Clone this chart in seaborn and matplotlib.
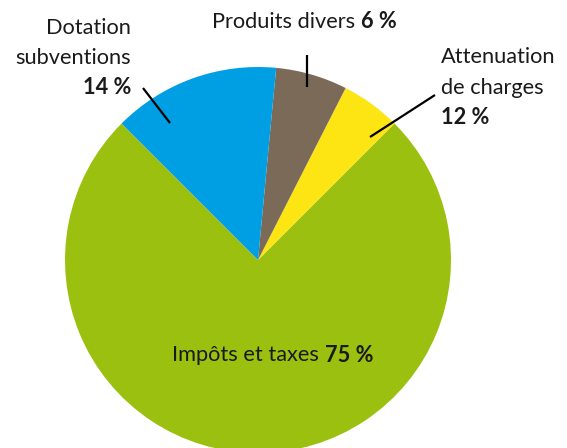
import matplotlib
matplotlib.use("Agg")
import matplotlib.pyplot as plt
import seaborn as sns

# Data (order as drawn counter-clockwise from the start angle)
categories = ["Impôts et taxes", "Attenuation de charges", "Produits divers", "Dotation subventions"]
values = [75, 5, 6, 14]
pct_labels = ["75 %", "12 %", "6 %", "14 %"]
colors = ["#9BC00F", "#FCE512", "#7A6A57", "#009FE3"]

sns.set_theme(style="white")
plt.rcParams["font.family"] = ["Lato", "DejaVu Sans"]

W, H = 567, 448
fig = plt.figure(figsize=(W / 100, H / 100), dpi=100)
ax = fig.add_axes([0, 0, 1, 1])

cx, cy, R = 258, 260, 193
def P(px, py):
    return ((px - cx) / R, (cy - py) / R)

ax.pie(values, colors=colors, startangle=135, counterclock=True, radius=1,
       wedgeprops=dict(linewidth=0))
ax.set_xlim(-cx / R, (W - cx) / R)
ax.set_ylim(-(H - cy) / R, cy / R)
ax.set_aspect("auto")
ax.axis("off")

fs = 15.7
renderer = fig.canvas.get_renderer()

def two_part(px, py, normal, bold):
    """Draw 'normal' + ' ' + bold text on one line starting at px (pixel)."""
    x, y = P(px, py)
    t1 = ax.text(x, y, normal + " ", fontsize=fs, ha="left", va="center", color="#1a1a1a")
    bb = t1.get_window_extent(renderer=renderer)
    inv = ax.transData.inverted()
    x2 = inv.transform((bb.x1, 0))[0]
    ax.text(x2, y, bold, fontsize=fs, fontweight="bold", ha="left", va="center", color="#1a1a1a")

# Dotation subventions (right aligned)
for txt, py, w in [("Dotation", 28, "normal"), ("subventions", 58, "normal"), (pct_labels[3], 88, "bold")]:
    x, y = P(131, py)
    ax.text(x, y, txt, fontsize=fs, fontweight=w, ha="right", va="center", color="#1a1a1a")

# Produits divers
two_part(212, 22, categories[2], pct_labels[2])

# Attenuation de charges
for txt, py, w in [("Attenuation", 57, "normal"), ("de charges", 88, "normal"), (pct_labels[1], 117, "bold")]:
    x, y = P(441, py)
    ax.text(x, y, txt, fontsize=fs, fontweight=w, ha="left", va="center", color="#1a1a1a")

# Impôts et taxes
two_part(172, 355, categories[0], pct_labels[0])

# Leader lines
for (a, b) in [((143, 88), (170, 123)), ((307, 55), (307, 87)), ((435, 95), (370, 137))]:
    p1, p2 = P(*a), P(*b)
    ax.plot([p1[0], p2[0]], [p1[1], p2[1]], color="black", lw=1.6, solid_capstyle="butt")

fig.savefig("out.png", dpi=100)
